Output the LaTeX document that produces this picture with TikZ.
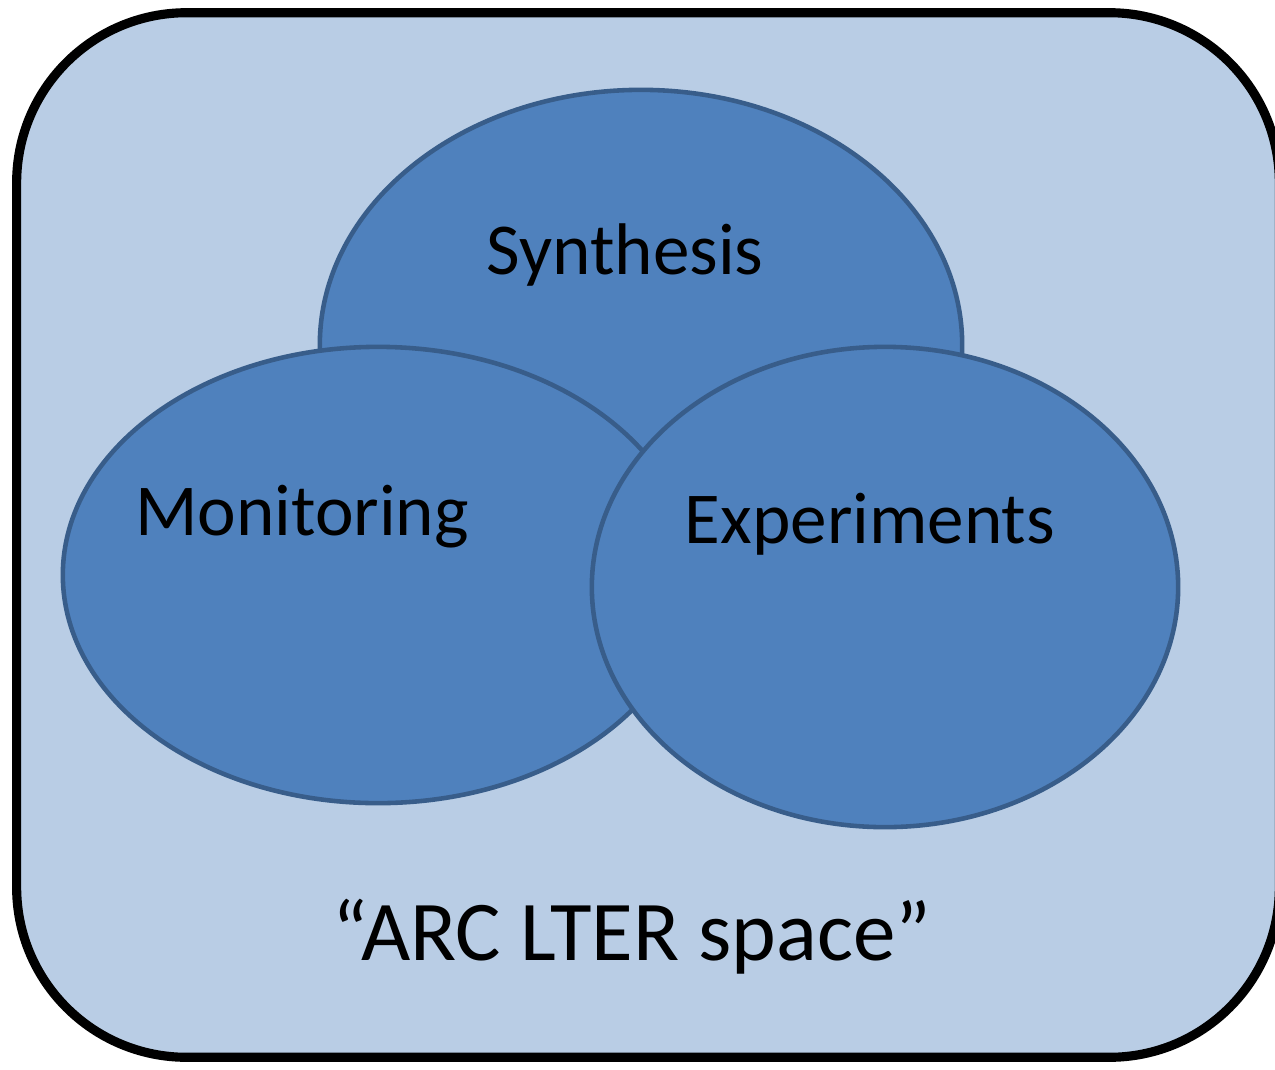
\documentclass[tikz,border=0pt]{standalone}
\usepackage{fontspec}
\setmainfont{Carlito}
\usetikzlibrary{shapes.geometric}
\definecolor{spacebg}{HTML}{B9CDE5}
\definecolor{areafill}{HTML}{4F81BD}
\definecolor{arealine}{HTML}{385D8A}
\tikzset{
  area/.style={ellipse,draw=arealine,fill=areafill,line width=1.3pt,inner sep=0pt},
  word/.style={font=\fontsize{20.8}{25}\selectfont,text=black}
}

\begin{document}
\begin{tikzpicture}[x=0.01cm,y=-0.01cm]
\useasboundingbox (0,0) rectangle (1275,1069);
\begin{scope}
\clip (0,0) rectangle (1275,1069);
\node[draw=black,fill=spacebg,line width=2.6pt,rounded corners=1.7cm,
  minimum width=12.62cm,minimum height=10.44cm,inner sep=0pt](space) at (648,535){};
\end{scope}
\node[area,minimum width=6.42cm,minimum height=5.1cm](synth) at (641,345){};
\node[area,minimum width=6.3cm,minimum height=4.56cm](monit) at (378,575){};
\node[area,minimum width=5.86cm,minimum height=4.8cm](exper) at (885,587){};
\node[word](synthlbl) at (625,255){Synthesis};
\node[word](monitlbl) at (302,517){Monitoring};
\node[word](experlbl) at (870,524){Experiments};
\node[word,font=\fontsize{24.2}{29}\selectfont](spacelbl) at (632,937){“ARC LTER space”};
\end{tikzpicture}
\end{document}
